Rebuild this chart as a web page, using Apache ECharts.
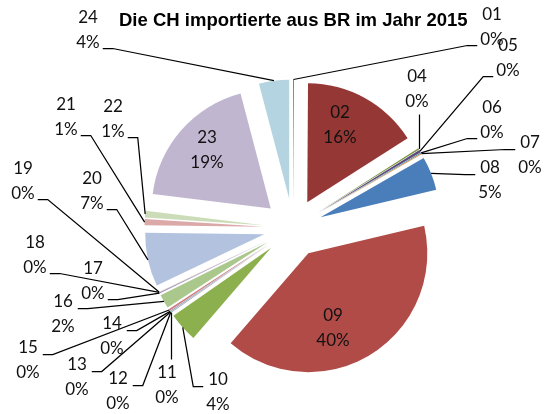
<!DOCTYPE html>
<html>
<head>
<meta charset="utf-8">
<script src="https://cdn.jsdelivr.net/npm/echarts@6/dist/echarts.min.js"></script>
<style>
  html, body { margin: 0; padding: 0; background: #fff; }
  #chart { width: 546px; height: 414px; }
</style>
</head>
<body>
<div id="chart"></div>
<script>
// Kapitel (ohne 03) und Anteile in %
const categories = ['01', '02', '04', '05', '06', '07', '08', '09', '10', '11', '12', '13',
  '14', '15', '16', '17', '18', '19', '20', '21', '22', '23', '24'];
const shares = [0.1, 15.9, 0.2, 0.35, 0.1, 0.1, 4.6, 40.1, 4.0, 0.05, 0.05, 0.05,
  0.1, 0.25, 1.9, 0.15, 0.03, 0.03, 7.3, 0.85, 0.9, 19.0, 4.1];

// Excel-Farben (vary colors)
const colors = ['#385D8A', '#953735', '#77933C', '#604A7B', '#31859C', '#E46C0A',
  '#4A7EBB', '#B14B48', '#8DB04F', '#7D60A0', '#46AAC5', '#F69240',
  '#7F9FCF', '#CF7B79', '#AAC88B', '#A795C0', '#75C2D6', '#F9B07A',
  '#B3C3DF', '#DBA9A8', '#CCDCB9', '#C1B6D0', '#B3D4E0'];

// Label-Mittelpunkte wie im Original (nur Layout)
const labelPos = {
  '01': [492, 27], '02': [340, 125], '04': [417, 89], '05': [508, 58], '06': [492, 120],
  '07': [530, 155], '08': [490, 180], '09': [333, 328], '10': [218, 392], '11': [167, 385],
  '12': [118, 391], '13': [77, 377], '14': [112, 336], '15': [28, 360], '16': [63, 314],
  '17': [93, 281], '18': [35, 255], '19': [23, 181], '20': [92, 191], '21': [66, 117],
  '22': [113, 119], '23': [207, 150], '24': [88, 30]
};
const insideLabels = ['02', '09', '23'];

const cx = 293, cy = 228, radius = 119, explode = 29.5;
const labelFont = { family: 'Lato', size: 17, lineHeight: 24.5 };

// Mittelwinkel je Stück, für die Führungslinien
const total = shares.reduce((a, b) => a + b, 0);
const midAngles = [];
let acc = 0;
shares.forEach(v => {
  midAngles.push((acc + v / 2) / total * Math.PI * 2);
  acc += v;
});

const ctx = document.createElement('canvas').getContext('2d');
ctx.font = labelFont.size + 'px ' + labelFont.family;
const textWidth = s => ctx.measureText(s).width;

// Beschriftungen + Führungslinien
const graphics = [];
categories.forEach((name, i) => {
  const p = labelPos[name];
  const pct = Math.round(shares[i] / total * 100) + '%';
  graphics.push({
    type: 'text', x: p[0], y: p[1], z: 10,
    style: {
      text: name + '\n' + pct, fill: '#111',
      fontFamily: labelFont.family, fontSize: labelFont.size, lineHeight: labelFont.lineHeight,
      align: 'center', verticalAlign: 'middle'
    }
  });
  if (insideLabels.includes(name)) return;

  const a = midAngles[i];
  const sx = cx + (radius + explode) * Math.sin(a);
  const sy = cy - (radius + explode) * Math.cos(a);
  const w = Math.max(textWidth(name), textWidth(pct));
  const h = labelFont.lineHeight * 2;
  let pts;
  if (Math.abs(p[0] - sx) < 15) {
    // senkrechte Linie
    const ey = p[1] < sy ? p[1] + h / 2 + 1 : p[1] - h / 2 - 1;
    const x = Math.round(sx) + 0.5;
    pts = [[x, sy], [x, ey]];
  } else {
    const right = p[0] > sx;
    const ex = right ? p[0] - w / 2 - 3 : p[0] + w / 2 + 3;
    const ey = Math.round(p[1] < sy - 10 ? p[1] + 18 : p[1] - 6) + 0.5;
    const kx = right ? ex - 10 : ex + 10;
    pts = [[sx, sy], [kx, ey], [ex, ey]];
  }
  graphics.push({
    type: 'polyline', z: 9,
    shape: { points: pts },
    style: { stroke: '#000', lineWidth: 1.25, fill: null }
  });
});

const chart = echarts.init(document.getElementById('chart'));

const option = {
  animation: false,
  title: {
    text: 'Die CH importierte aus BR im Jahr 2015',
    left: 119,
    top: 11,
    padding: 0,
    textStyle: {
      fontFamily: 'Liberation Sans, Arial, sans-serif',
      fontSize: 18.5,
      fontWeight: 'bold',
      color: '#000'
    }
  },
  graphic: graphics,
  series: [{
    type: 'pie',
    center: [cx, cy],
    radius: radius,
    startAngle: 90,
    clockwise: true,
    selectedMode: 'multiple',
    selectedOffset: explode,
    avoidLabelOverlap: false,
    silent: true,
    itemStyle: { borderWidth: 0 },
    label: { show: false },
    labelLine: { show: false },
    data: categories.map((c, i) => ({
      name: c,
      value: shares[i],
      selected: true,
      itemStyle: { color: colors[i] }
    }))
  }]
};

chart.setOption(option);
</script>
</body>
</html>
